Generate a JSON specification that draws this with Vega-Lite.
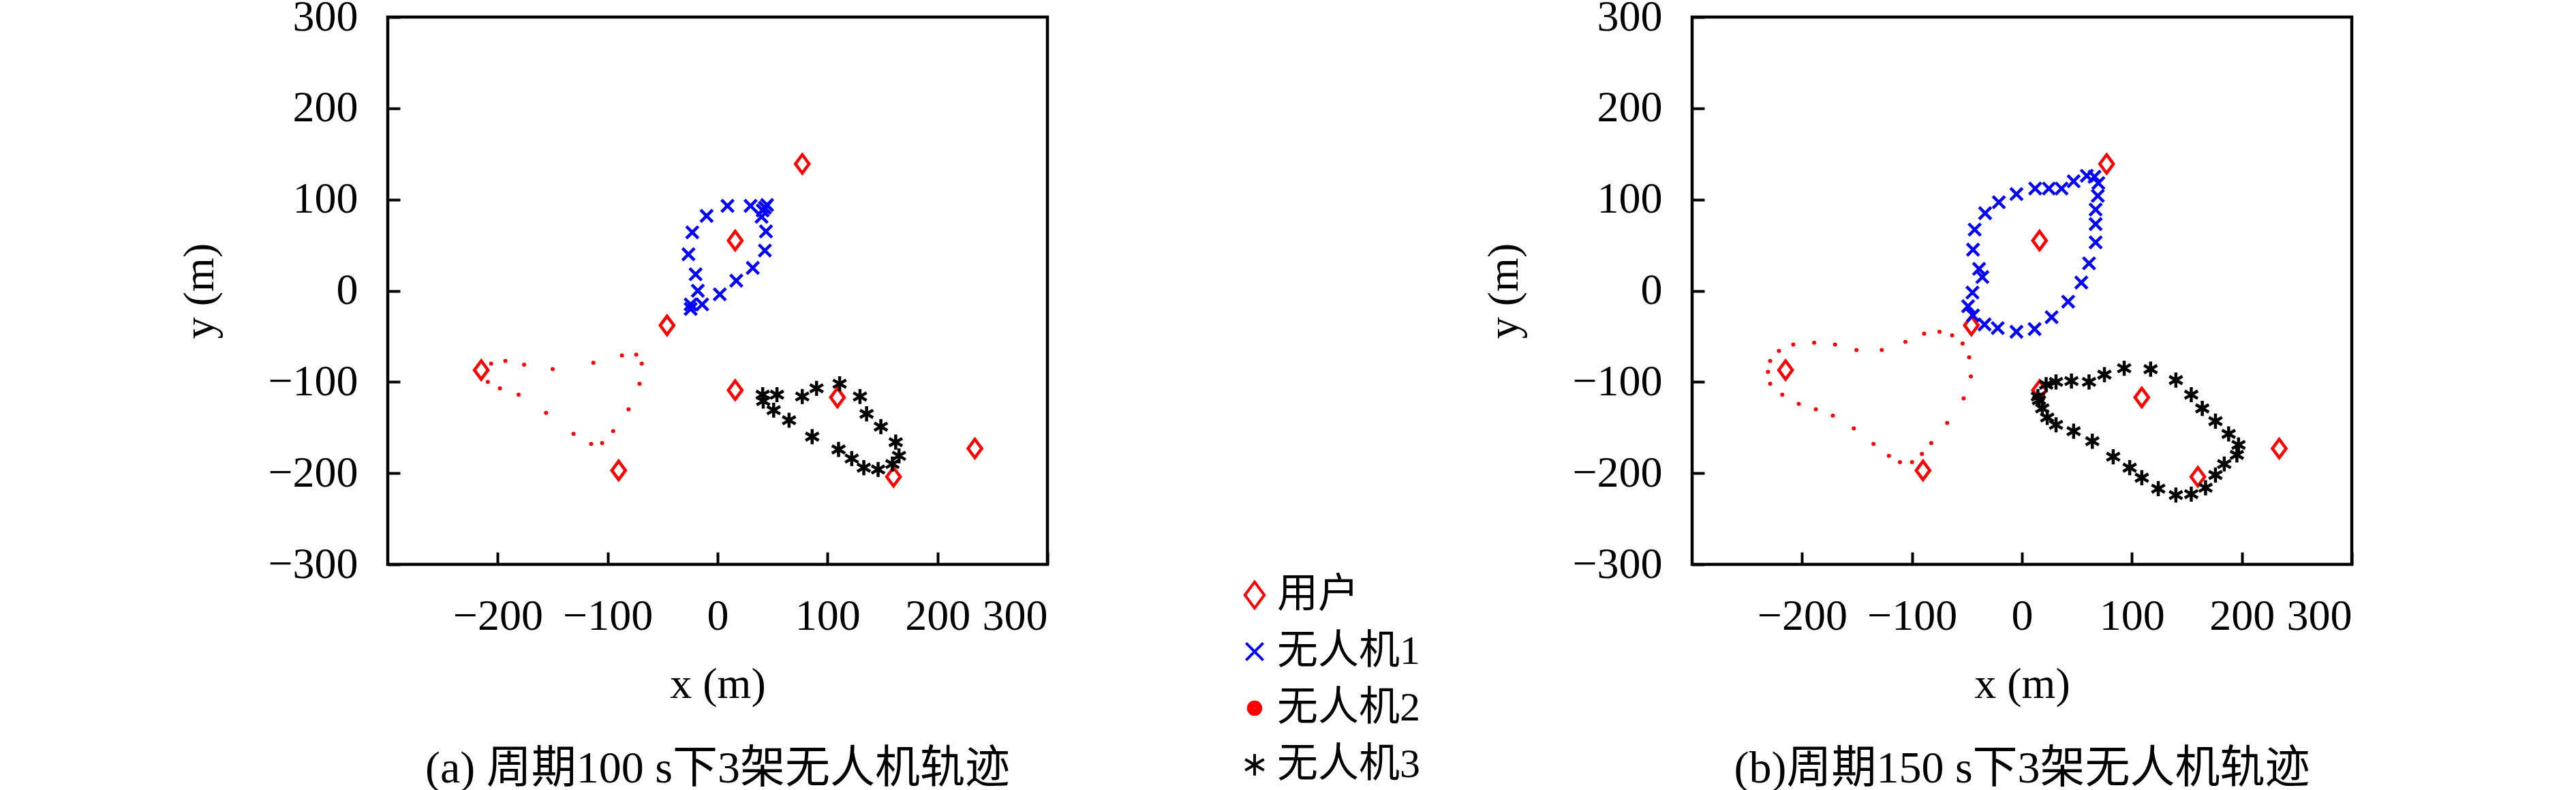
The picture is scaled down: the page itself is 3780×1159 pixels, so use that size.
{
  "$schema": "https://vega.github.io/schema/vega-lite/v6.json",
  "autosize": {"type": "none"},
  "padding": {"left": 569, "top": 25, "right": 3211, "bottom": 1134},
  "bounds": "flush",
  "spacing": 946,
  "background": "white",
  "config": {
    "view": {"stroke": "black", "strokeWidth": 4.5},
    "axis": {
      "grid": false, "domain": false,
      "tickSize": -18, "tickWidth": 4, "tickColor": "black",
      "labelFont": "Liberation Serif", "labelFontSize": 64, "labelColor": "black", "labelPadding": 62,
      "titleFont": "Liberation Serif", "titleFontSize": 64, "titleFontWeight": "normal", "titleColor": "black"
    },
    "axisX": {"titlePadding": 36},
    "axisY": {"titlePadding": 67},
    "title": {"font": "Liberation Serif, Noto Sans CJK SC", "fontSize": 66, "fontWeight": "normal", "color": "black", "orient": "bottom", "offset": 60},
    "legend": {
      "orient": "none", "legendX": 1242, "legendY": 818, "padding": 0,
      "labelFont": "Liberation Serif, Noto Sans CJK SC", "labelFontSize": 60, "labelColor": "black", "labelLimit": 0,
      "symbolSize": 1369, "symbolStrokeWidth": 4, "rowPadding": 23, "labelOffset": 3, "title": null
    }
  },
  "data": {"values": [
    {"p":"a","s":"用户","x":77,"y":139},{"p":"a","s":"用户","x":16,"y":55},{"p":"a","s":"用户","x":-46,"y":-38},{"p":"a","s":"用户","x":-215,"y":-87},{"p":"a","s":"用户","x":16,"y":-109},{"p":"a","s":"用户","x":109,"y":-117},{"p":"a","s":"用户","x":-90,"y":-197},{"p":"a","s":"用户","x":160,"y":-204},{"p":"a","s":"用户","x":234,"y":-173},
    {"p":"b","s":"用户","x":77,"y":139},{"p":"b","s":"用户","x":16,"y":55},{"p":"b","s":"用户","x":-46,"y":-38},{"p":"b","s":"用户","x":-215,"y":-87},{"p":"b","s":"用户","x":16,"y":-109},{"p":"b","s":"用户","x":109,"y":-117},{"p":"b","s":"用户","x":-90,"y":-197},{"p":"b","s":"用户","x":160,"y":-204},{"p":"b","s":"用户","x":234,"y":-173},
    {"p":"a","s":"无人机1","x":9,"y":93},{"p":"a","s":"无人机1","x":30,"y":93},{"p":"a","s":"无人机1","x":45,"y":94},{"p":"a","s":"无人机1","x":43,"y":91},{"p":"a","s":"无人机1","x":41,"y":88},{"p":"a","s":"无人机1","x":40,"y":81},{"p":"a","s":"无人机1","x":44,"y":65},{"p":"a","s":"无人机1","x":43,"y":44},{"p":"a","s":"无人机1","x":32,"y":25},{"p":"a","s":"无人机1","x":17,"y":11},{"p":"a","s":"无人机1","x":2,"y":-4},{"p":"a","s":"无人机1","x":-14,"y":-15},{"p":"a","s":"无人机1","x":-24.5,"y":-15},{"p":"a","s":"无人机1","x":-24.5,"y":-20},{"p":"a","s":"无人机1","x":-18,"y":0},{"p":"a","s":"无人机1","x":-20,"y":18},{"p":"a","s":"无人机1","x":-26.5,"y":40},{"p":"a","s":"无人机1","x":-23,"y":64},{"p":"a","s":"无人机1","x":-10,"y":82},
    {"p":"a","s":"无人机2","x":-206,"y":-80},{"p":"a","s":"无人机2","x":-193,"y":-77},{"p":"a","s":"无人机2","x":-176,"y":-81},{"p":"a","s":"无人机2","x":-150,"y":-86},{"p":"a","s":"无人机2","x":-113,"y":-79},{"p":"a","s":"无人机2","x":-87,"y":-71},{"p":"a","s":"无人机2","x":-74,"y":-70},{"p":"a","s":"无人机2","x":-69,"y":-80},{"p":"a","s":"无人机2","x":-71,"y":-102},{"p":"a","s":"无人机2","x":-81,"y":-130},{"p":"a","s":"无人机2","x":-95,"y":-154},{"p":"a","s":"无人机2","x":-105,"y":-167},{"p":"a","s":"无人机2","x":-115,"y":-168},{"p":"a","s":"无人机2","x":-131,"y":-157},{"p":"a","s":"无人机2","x":-156,"y":-134},{"p":"a","s":"无人机2","x":-181,"y":-114},{"p":"a","s":"无人机2","x":-198,"y":-107},{"p":"a","s":"无人机2","x":-209,"y":-100},
    {"p":"a","s":"无人机3","x":41,"y":-114},{"p":"a","s":"无人机3","x":54,"y":-114},{"p":"a","s":"无人机3","x":41.5,"y":-121},{"p":"a","s":"无人机3","x":51,"y":-131},{"p":"a","s":"无人机3","x":65,"y":-142},{"p":"a","s":"无人机3","x":77,"y":-116},{"p":"a","s":"无人机3","x":90,"y":-107},{"p":"a","s":"无人机3","x":111,"y":-102},{"p":"a","s":"无人机3","x":129.5,"y":-116},{"p":"a","s":"无人机3","x":135.5,"y":-135},{"p":"a","s":"无人机3","x":148.5,"y":-149},{"p":"a","s":"无人机3","x":162,"y":-166},{"p":"a","s":"无人机3","x":165,"y":-181},{"p":"a","s":"无人机3","x":159,"y":-190},{"p":"a","s":"无人机3","x":146,"y":-196},{"p":"a","s":"无人机3","x":133,"y":-194},{"p":"a","s":"无人机3","x":122,"y":-184},{"p":"a","s":"无人机3","x":110,"y":-174},{"p":"a","s":"无人机3","x":86,"y":-160},
    {"p":"b","s":"无人机1","x":12,"y":112},{"p":"b","s":"无人机1","x":24.5,"y":112},{"p":"b","s":"无人机1","x":36,"y":112},{"p":"b","s":"无人机1","x":47,"y":120},{"p":"b","s":"无人机1","x":59,"y":126},{"p":"b","s":"无人机1","x":66,"y":125},{"p":"b","s":"无人机1","x":69.5,"y":118},{"p":"b","s":"无人机1","x":69,"y":104},{"p":"b","s":"无人机1","x":67,"y":89},{"p":"b","s":"无人机1","x":67,"y":73},{"p":"b","s":"无人机1","x":67,"y":53},{"p":"b","s":"无人机1","x":61,"y":30},{"p":"b","s":"无人机1","x":54,"y":9},{"p":"b","s":"无人机1","x":42,"y":-12},{"p":"b","s":"无人机1","x":27,"y":-29},{"p":"b","s":"无人机1","x":11.5,"y":-42},{"p":"b","s":"无人机1","x":-5,"y":-45},{"p":"b","s":"无人机1","x":-22,"y":-41},{"p":"b","s":"无人机1","x":-34,"y":-37},{"p":"b","s":"无人机1","x":-44.5,"y":-27},{"p":"b","s":"无人机1","x":-49,"y":-17},{"p":"b","s":"无人机1","x":-45,"y":-2},{"p":"b","s":"无人机1","x":-36,"y":15},{"p":"b","s":"无人机1","x":-39,"y":24},{"p":"b","s":"无人机1","x":-44.5,"y":45},{"p":"b","s":"无人机1","x":-43,"y":67},{"p":"b","s":"无人机1","x":-33.5,"y":85},{"p":"b","s":"无人机1","x":-21,"y":97},{"p":"b","s":"无人机1","x":-5,"y":106},
    {"p":"b","s":"无人机2","x":-231,"y":-89},{"p":"b","s":"无人机2","x":-229,"y":-77},{"p":"b","s":"无人机2","x":-221,"y":-66},{"p":"b","s":"无人机2","x":-208,"y":-59},{"p":"b","s":"无人机2","x":-189,"y":-57},{"p":"b","s":"无人机2","x":-170,"y":-59},{"p":"b","s":"无人机2","x":-150.5,"y":-65},{"p":"b","s":"无人机2","x":-127.5,"y":-65},{"p":"b","s":"无人机2","x":-106,"y":-56},{"p":"b","s":"无人机2","x":-89,"y":-47},{"p":"b","s":"无人机2","x":-75,"y":-45},{"p":"b","s":"无人机2","x":-63.5,"y":-49},{"p":"b","s":"无人机2","x":-54,"y":-58},{"p":"b","s":"无人机2","x":-48,"y":-73},{"p":"b","s":"无人机2","x":-46.5,"y":-94},{"p":"b","s":"无人机2","x":-53,"y":-118},{"p":"b","s":"无人机2","x":-68,"y":-145},{"p":"b","s":"无人机2","x":-82.5,"y":-167},{"p":"b","s":"无人机2","x":-91,"y":-179},{"p":"b","s":"无人机2","x":-100,"y":-188},{"p":"b","s":"无人机2","x":-111,"y":-188},{"p":"b","s":"无人机2","x":-121,"y":-181},{"p":"b","s":"无人机2","x":-135,"y":-168},{"p":"b","s":"无人机2","x":-153,"y":-151},{"p":"b","s":"无人机2","x":-172,"y":-137},{"p":"b","s":"无人机2","x":-187.5,"y":-130},{"p":"b","s":"无人机2","x":-203,"y":-124},{"p":"b","s":"无人机2","x":-218,"y":-114},{"p":"b","s":"无人机2","x":-229,"y":-102},
    {"p":"b","s":"无人机3","x":22,"y":-103},{"p":"b","s":"无人机3","x":31,"y":-100},{"p":"b","s":"无人机3","x":45,"y":-99},{"p":"b","s":"无人机3","x":61,"y":-100},{"p":"b","s":"无人机3","x":75,"y":-92},{"p":"b","s":"无人机3","x":93,"y":-85},{"p":"b","s":"无人机3","x":117,"y":-86},{"p":"b","s":"无人机3","x":140,"y":-98},{"p":"b","s":"无人机3","x":154,"y":-114},{"p":"b","s":"无人机3","x":164,"y":-129},{"p":"b","s":"无人机3","x":176,"y":-143},{"p":"b","s":"无人机3","x":188,"y":-157},{"p":"b","s":"无人机3","x":197,"y":-169},{"p":"b","s":"无人机3","x":195.5,"y":-180},{"p":"b","s":"无人机3","x":184,"y":-190},{"p":"b","s":"无人机3","x":176,"y":-202},{"p":"b","s":"无人机3","x":167,"y":-216},{"p":"b","s":"无人机3","x":154,"y":-223},{"p":"b","s":"无人机3","x":140,"y":-224},{"p":"b","s":"无人机3","x":124,"y":-217},{"p":"b","s":"无人机3","x":109,"y":-205},{"p":"b","s":"无人机3","x":98,"y":-194},{"p":"b","s":"无人机3","x":83,"y":-182},{"p":"b","s":"无人机3","x":64,"y":-165},{"p":"b","s":"无人机3","x":47,"y":-154},{"p":"b","s":"无人机3","x":31,"y":-147},{"p":"b","s":"无人机3","x":23,"y":-139},{"p":"b","s":"无人机3","x":18.5,"y":-129},{"p":"b","s":"无人机3","x":15.5,"y":-120},{"p":"b","s":"无人机3","x":14.5,"y":-116}
  ]},
  "resolve": {"scale": {"color": "shared", "shape": "shared"}},
  "hconcat": [
    {
      "width": 968, "height": 803,
      "title": {"text": "(a) 周期100 s下3架无人机轨迹"},
      "transform": [{"filter": "datum.p === 'a'"}],
      "encoding": {
        "x": {"field": "x", "type": "quantitative", "scale": {"domain": [-300, 300], "nice": false}, "axis": {"values": [-200, -100, 0, 100, 200, 300], "title": "x (m)"}},
        "y": {"field": "y", "type": "quantitative", "scale": {"domain": [-300, 300], "nice": false}, "axis": {"values": [-300, -200, -100, 0, 100, 200, 300], "title": "y (m)"}}
      },
      "layer": [
        {
          "transform": [{"filter": "datum.s !== '无人机2'"}],
          "mark": {"type": "point", "filled": false, "strokeWidth": 4.5, "opacity": 1, "size": 676},
          "encoding": {
            "color": {"field": "s", "type": "nominal", "scale": {"domain": ["用户", "无人机1", "无人机2", "无人机3"], "range": ["#ff0000", "#0000ff", "#ff0000", "#000000"]}},
            "shape": {"field": "s", "type": "nominal", "scale": {"domain": ["用户", "无人机1", "无人机2", "无人机3"], "range": ["M0,-1.04L0.77,0L0,1.04L-0.77,0Z", "M-0.68,-0.68L0.68,0.68M-0.68,0.68L0.68,-0.68", "M-0.5,0A0.5,0.5 0 1,0 0.5,0A0.5,0.5 0 1,0 -0.5,0M-0.36,0A0.36,0.36 0 1,0 0.36,0A0.36,0.36 0 1,0 -0.36,0M-0.22,0A0.22,0.22 0 1,0 0.22,0A0.22,0.22 0 1,0 -0.22,0M-0.08,0A0.08,0.08 0 1,0 0.08,0A0.08,0.08 0 1,0 -0.08,0", "M0,-0.85L0,0.85M-0.74,-0.43L0.74,0.43M-0.74,0.43L0.74,-0.43"]}}
          }
        },
        {
          "transform": [{"filter": "datum.s === '无人机2'"}],
          "mark": {"type": "circle", "color": "#ff0000", "opacity": 1, "size": 36},
          "encoding": {}
        }
      ]
    },
    {
      "width": 968, "height": 803,
      "title": {"text": "(b)周期150 s下3架无人机轨迹"},
      "transform": [{"filter": "datum.p === 'b'"}],
      "encoding": {
        "x": {"field": "x", "type": "quantitative", "scale": {"domain": [-300, 300], "nice": false}, "axis": {"values": [-200, -100, 0, 100, 200, 300], "title": "x (m)"}},
        "y": {"field": "y", "type": "quantitative", "scale": {"domain": [-300, 300], "nice": false}, "axis": {"values": [-300, -200, -100, 0, 100, 200, 300], "title": "y (m)"}}
      },
      "layer": [
        {
          "transform": [{"filter": "datum.s !== '无人机2'"}],
          "mark": {"type": "point", "filled": false, "strokeWidth": 4.5, "opacity": 1, "size": 676},
          "encoding": {
            "color": {"field": "s", "type": "nominal", "scale": {"domain": ["用户", "无人机1", "无人机2", "无人机3"], "range": ["#ff0000", "#0000ff", "#ff0000", "#000000"]}},
            "shape": {"field": "s", "type": "nominal", "scale": {"domain": ["用户", "无人机1", "无人机2", "无人机3"], "range": ["M0,-1.04L0.77,0L0,1.04L-0.77,0Z", "M-0.68,-0.68L0.68,0.68M-0.68,0.68L0.68,-0.68", "M-0.5,0A0.5,0.5 0 1,0 0.5,0A0.5,0.5 0 1,0 -0.5,0M-0.36,0A0.36,0.36 0 1,0 0.36,0A0.36,0.36 0 1,0 -0.36,0M-0.22,0A0.22,0.22 0 1,0 0.22,0A0.22,0.22 0 1,0 -0.22,0M-0.08,0A0.08,0.08 0 1,0 0.08,0A0.08,0.08 0 1,0 -0.08,0", "M0,-0.85L0,0.85M-0.74,-0.43L0.74,0.43M-0.74,0.43L0.74,-0.43"]}}
          }
        },
        {
          "transform": [{"filter": "datum.s === '无人机2'"}],
          "mark": {"type": "circle", "color": "#ff0000", "opacity": 1, "size": 36},
          "encoding": {}
        }
      ]
    }
  ]
}
